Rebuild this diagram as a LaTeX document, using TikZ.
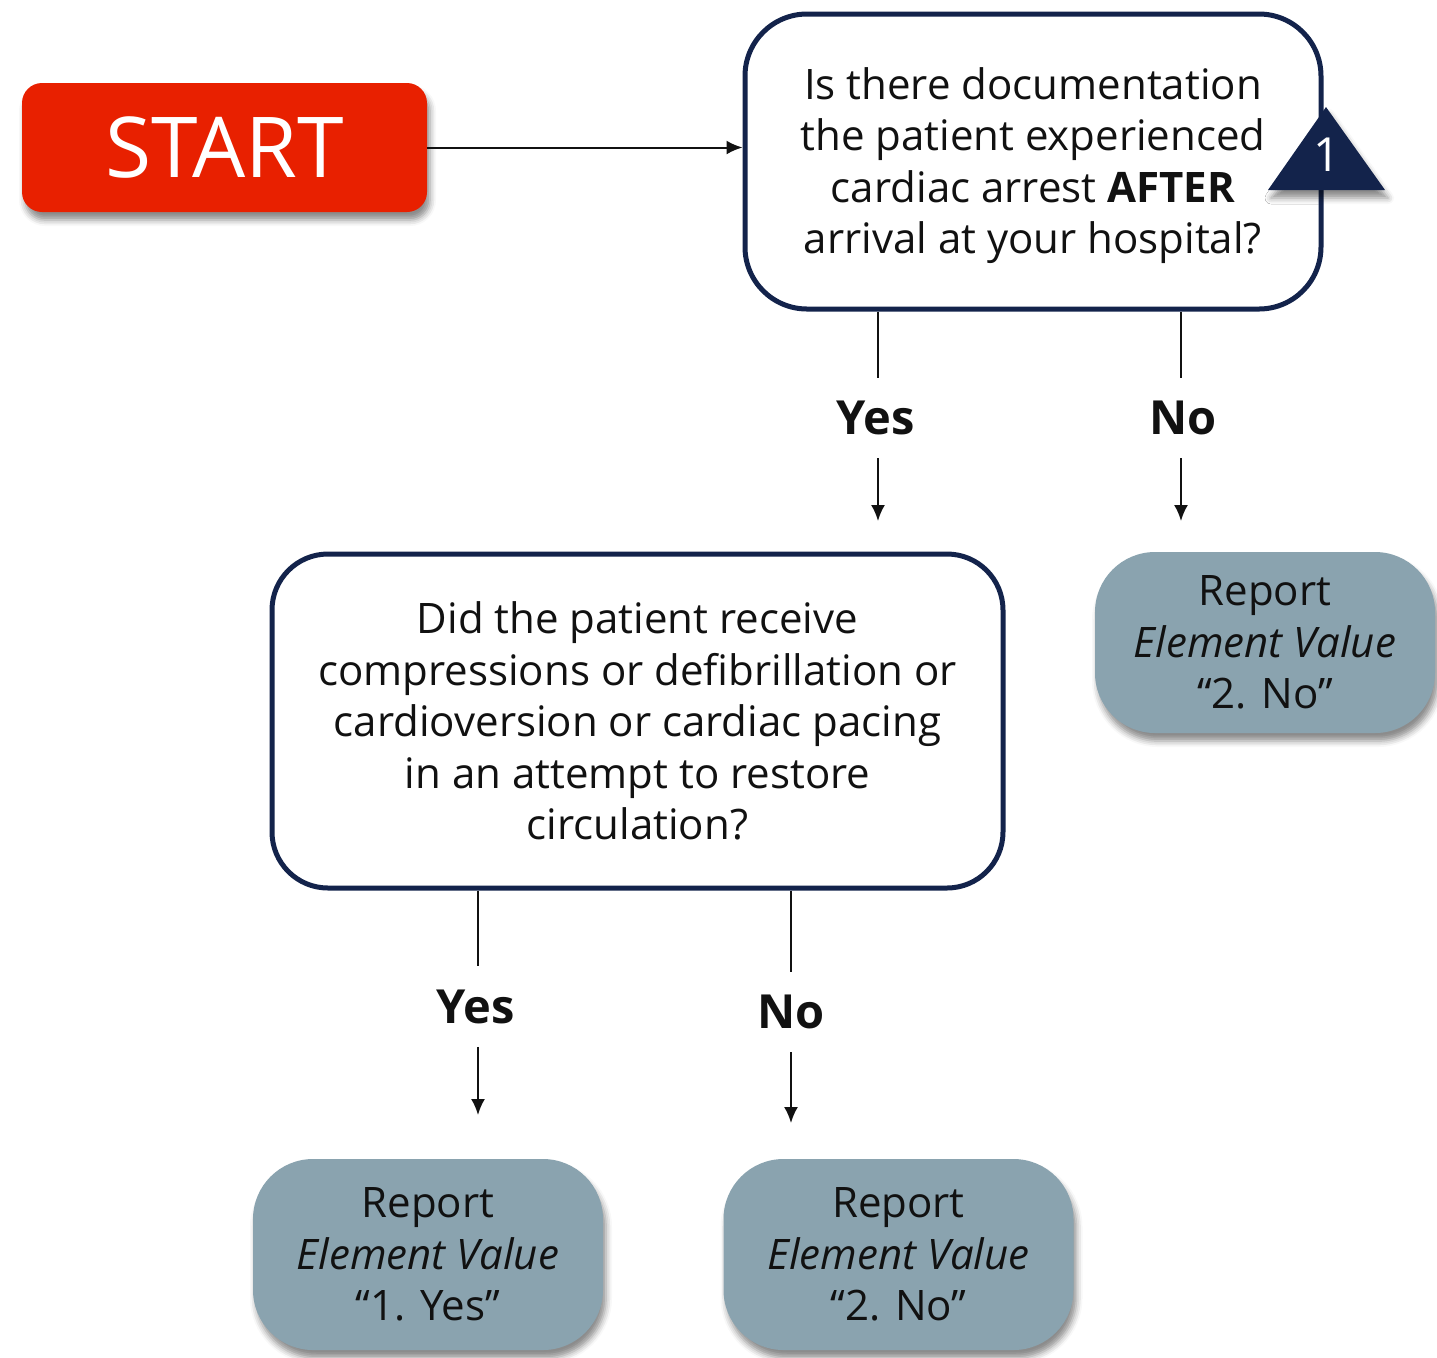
\documentclass[tikz,border=0pt]{standalone}
\usepackage{fontspec}
\setmainfont{Open Sans}
\usetikzlibrary{arrows.meta,shadows.blur}
\definecolor{navy}{HTML}{13234B}
\definecolor{startred}{HTML}{E82000}
\definecolor{slate}{HTML}{8AA3AF}
\definecolor{ink}{HTML}{111111}

\begin{document}
\begin{tikzpicture}[x=0.5pt,y=-0.5pt,
  soft shadow/.style={blur shadow={shadow xshift=1.5pt, shadow yshift=-4pt,
      shadow blur radius=3pt, shadow opacity=45}},
  bodytext/.style={font=\fontsize{21pt}{25.75pt}\selectfont, text=ink},
  question/.style={draw=navy, line width=2.5pt, rounded corners=28pt, fill=white,
      align=center, inner sep=0pt, bodytext},
  report/.style={fill=slate, rounded corners=30pt, align=center, inner sep=0pt,
      soft shadow, bodytext},
  branch/.style={font=\bfseries\fontsize{23.5pt}{28pt}\selectfont, text=ink,
      minimum height=40pt, inner sep=0pt},
  link/.style={line width=1pt, ink},
  arrow/.style={link, -{Latex[length=8pt,width=7pt]}}
]
\useasboundingbox (0,0) rectangle (1437,1357);

% start terminator
\node[fill=startred, rounded corners=10pt, minimum width=202.5pt, minimum height=64.5pt,
      inner sep=0pt, text=white, font=\fontsize{42pt}{50pt}\selectfont, soft shadow]
  (start) at (224.5,147.5) {START};

% first decision
\node[question, rounded corners=31pt, minimum width=288pt, minimum height=147.5pt] (q1) at (1033,161.5)
  {\rule{0pt}{20pt}Is there documentation\\the patient experienced\\cardiac arrest \textbf{AFTER}\\arrival at your hospital?};

% reference marker on the first decision
\fill[navy, soft shadow] (1326,107) -- (1385,190) -- (1268,190) -- cycle;
\node[text=white, font=\fontsize{23.5pt}{28pt}\selectfont, inner sep=0pt] (badge) at (1327,155) {1};

\draw[arrow] (start.east) -- (q1.west |- start.east);

% branches of the first decision
\node[branch] (yes1) at (876,418) {Yes};
\node[branch] (no1) at (1183,418) {No};
\coordinate (yes1tip) at (878,521);
\coordinate (no1tip) at (1181,521);
\draw[link] (q1.south -| yes1tip) -- (yes1.north -| yes1tip);
\draw[arrow] (yes1.south -| yes1tip) -- (yes1tip);
\draw[link] (q1.south -| no1tip) -- (no1.north -| no1tip);
\draw[arrow] (no1.south -| no1tip) -- (no1tip);

\node[report, minimum width=170pt, minimum height=90.5pt] (rno1) at (1265,642.5)
  {Report\\\textit{Element Value}\\“2. No”};

% second decision
\node[question, minimum width=365.5pt, minimum height=167pt] (q2) at (637.5,721)
  {Did the patient receive\\compressions or defibrillation or\\cardioversion or cardiac pacing\\in an attempt to restore\\circulation?};

\node[branch] (yes2) at (476,1006.5) {Yes};
\node[branch] (no2) at (791,1012) {No};
\coordinate (yes2tip) at (478,1115);
\coordinate (no2tip) at (791,1123);
\draw[link] (q2.south -| yes2tip) -- (yes2.north -| yes2tip);
\draw[arrow] (yes2.south -| yes2tip) -- (yes2tip);
\draw[link] (q2.south -| no2tip) -- (no2.north -| no2tip);
\draw[arrow] (no2.south -| no2tip) -- (no2tip);

\node[report, minimum width=175pt, minimum height=95.5pt] (ryes2) at (428,1254.5)
  {Report\\\textit{Element Value}\\“1. Yes”};
\node[report, minimum width=175pt, minimum height=95.5pt] (rno2) at (898.5,1254.5)
  {Report\\\textit{Element Value}\\“2. No”};
\end{tikzpicture}
\end{document}
